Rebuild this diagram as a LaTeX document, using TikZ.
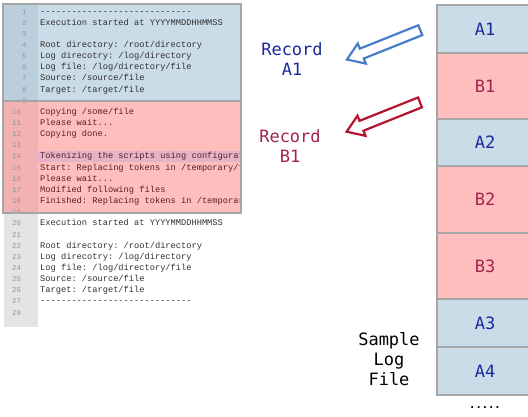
\documentclass[tikz,border=0pt]{standalone}
\usepackage{fontspec}
\setmonofont{Liberation Mono}
\newfontfamily\labfont{DejaVu Sans Mono}
\definecolor{panelblue}{HTML}{C9DCE7}
\definecolor{gutblue}{HTML}{BACFDB}
\definecolor{panelred}{HTML}{FFBEBE}
\definecolor{gutred}{HTML}{F2B2B4}
\definecolor{gutgray}{HTML}{E4E4E4}
\definecolor{hlpink}{HTML}{E6B2C8}
\definecolor{bordgray}{HTML}{A6A6A6}
\definecolor{numgray}{HTML}{949494}
\definecolor{codeblk}{HTML}{303030}
\definecolor{codered}{HTML}{552222}
\definecolor{labblue}{HTML}{1A2A9C}
\definecolor{labred}{HTML}{A3234F}
\definecolor{arrblue}{HTML}{4A7DC9}
\definecolor{arrred}{HTML}{B5122E}
\tikzset{
  lnum/.style={font=\ttfamily\fontsize{7.3}{8}\selectfont, text=numgray, inner sep=0pt, anchor=base west},
  codetxt/.style={font=\ttfamily\fontsize{8.7}{10}\selectfont, inner sep=0pt, anchor=base west},
  blk/.style={draw=bordgray, line width=2.5pt, minimum width=96pt, inner sep=0pt,
    font=\labfont\fontsize{17}{20}\selectfont},
  ablk/.style={blk, fill=panelblue, text=labblue},
  bblk/.style={blk, fill=panelred, text=labred},
  biglab/.style={font=\labfont\fontsize{17}{20}\selectfont, align=center, inner sep=0pt},
  hollowline/.style={line width=2.2pt, line join=miter},
  panelborder/.style={draw=bordgray, line width=2.5pt}
}
\newcommand{\lny}[1]{11+(#1-1)*11.15+3}
% hollow block arrow in a local frame: x along the axis from the tail, length 79
\newcommand{\hollowarrow}[1]{%
  \draw[hollowline,#1] (0,-5.3) -- (63,-5.3) -- (63,-10.8) -- (79,0) -- (63,10.8) -- (63,5.3) -- (0,5.3) -- cycle;}
\begin{document}
\begin{tikzpicture}[x=1pt,y=-1pt]
\useasboundingbox (0,0) rectangle (528,416);
\clip (0,0) rectangle (528,416);
% panels
\fill[panelblue] (3,4) rectangle (241,101);
\fill[gutblue] (3,4) rectangle (38,101);
\fill[panelred] (3,101) rectangle (241,213);
\fill[gutred] (3,101) rectangle (38,213);
\fill[hlpink] (38,150.5) rectangle (241,161.5);
\fill[gutgray] (4,213) rectangle (38,327);
% line numbers
\foreach \n in {1,...,28}{
  \pgfmathsetmacro\xx{\n<10 ? 22 : 12}
  \pgfmathsetmacro\yy{\lny{\n}}
  \node[lnum] (ln\n) at (\xx,\yy) {\n};
}
% code text
\begin{scope}
\clip (38,0) rectangle (240,416);
\node[codetxt, text=codeblk] (c1) at (40,{\lny{1}}) {-----------------------------};
\node[codetxt, text=codeblk] (c2) at (40,{\lny{2}}) {Execution started at YYYYMMDDHHMMSS};
\node[codetxt, text=codeblk] (c4) at (40,{\lny{4}}) {Root directory: /root/directory};
\node[codetxt, text=codeblk] (c5) at (40,{\lny{5}}) {Log direcotry: /log/directory};
\node[codetxt, text=codeblk] (c6) at (40,{\lny{6}}) {Log file: /log/directory/file};
\node[codetxt, text=codeblk] (c7) at (40,{\lny{7}}) {Source: /source/file};
\node[codetxt, text=codeblk] (c8) at (40,{\lny{8}}) {Target: /target/file};
\node[codetxt, text=codered] (c10) at (40,{\lny{10}}) {Copying /some/file};
\node[codetxt, text=codered] (c11) at (40,{\lny{11}}) {Please wait...};
\node[codetxt, text=codered] (c12) at (40,{\lny{12}}) {Copying done.};
\node[codetxt, text=codered] (c14) at (40,{\lny{14}}) {Tokenizing the scripts using configurat};
\node[codetxt, text=codered] (c15) at (40,{\lny{15}}) {Start: Replacing tokens in /temporary/f};
\node[codetxt, text=codered] (c16) at (40,{\lny{16}}) {Please wait...};
\node[codetxt, text=codered] (c17) at (40,{\lny{17}}) {Modified following files};
\node[codetxt, text=codered] (c18) at (40,{\lny{18}}) {Finished: Replacing tokens in /temporar};
\node[codetxt, text=codeblk] (c20) at (40,{\lny{20}}) {Execution started at YYYYMMDDHHMMSS};
\node[codetxt, text=codeblk] (c22) at (40,{\lny{22}}) {Root directory: /root/directory};
\node[codetxt, text=codeblk] (c23) at (40,{\lny{23}}) {Log direcotry: /log/directory};
\node[codetxt, text=codeblk] (c24) at (40,{\lny{24}}) {Log file: /log/directory/file};
\node[codetxt, text=codeblk] (c25) at (40,{\lny{25}}) {Source: /source/file};
\node[codetxt, text=codeblk] (c26) at (40,{\lny{26}}) {Target: /target/file};
\node[codetxt, text=codeblk] (c27) at (40,{\lny{27}}) {-----------------------------};
\end{scope}
% panel borders
\draw[panelborder] (3,4) rectangle (241,101);
\draw[panelborder] (3,101) rectangle (241,213);
% right column of records
\node[ablk, minimum height=48pt] (A1) at (485,29) {A1};
\node[bblk, minimum height=66pt] (B1) at (485,86) {B1};
\node[ablk, minimum height=47pt] (A2) at (485,142.5) {A2};
\node[bblk, minimum height=67pt] (B2) at (485,199.5) {B2};
\node[bblk, minimum height=66pt] (B3) at (485,266) {B3};
\node[ablk, minimum height=48pt] (A3) at (485,323) {A3};
\node[ablk, minimum height=48pt] (A4) at (485,371) {A4};
\node[font=\labfont\bfseries\fontsize{10.5}{12}\selectfont, inner sep=0pt] (dots) at (485,407.5) {.....};
% labels
\node[biglab, text=labblue] (recA) at (292,59) {Record\\A1};
\node[biglab, text=labred] (recB) at (290,146) {Record\\B1};
\node[biglab, text=black] (sample) at (389,359.5) {Sample\\Log\\File};
% hollow arrows
\begin{scope}[shift={(420.3,30.2)}, rotate=201.78]
  \hollowarrow{draw=arrblue}
\end{scope}
\begin{scope}[shift={(420.0,102.4)}, rotate=201.78]
  \hollowarrow{draw=arrred}
\end{scope}
\end{tikzpicture}
\end{document}
